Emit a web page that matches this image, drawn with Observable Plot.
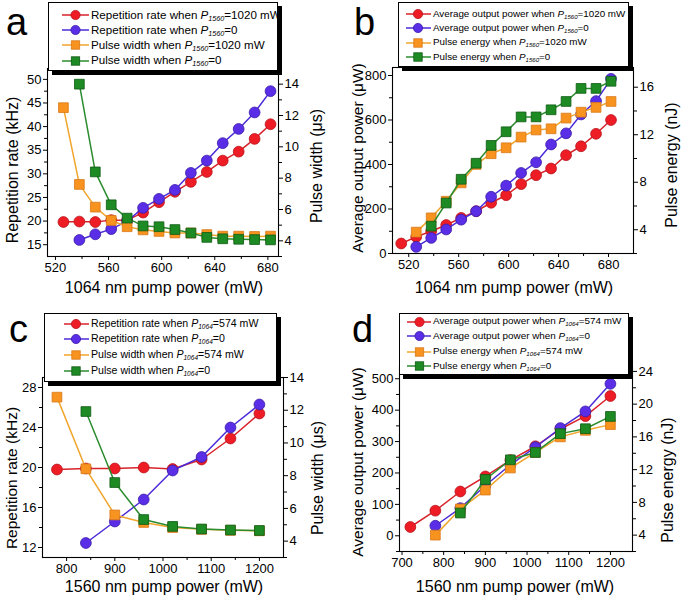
<!DOCTYPE html>
<html><head><meta charset="utf-8">
<script src="https://cdn.jsdelivr.net/npm/d3@7"></script>
<script src="https://cdn.jsdelivr.net/npm/@observablehq/plot@0.6"></script>
<style>
body{margin:0;background:#fff;}
#root{position:relative;width:685px;height:598px;overflow:hidden;font-family:Arial,"Liberation Sans",Helvetica,sans-serif;color:#000;}
.lbl{position:absolute;white-space:nowrap;line-height:1;}
.legend{position:absolute;background:#fff;border:1px solid #000;box-shadow:4px 4px 0 #000;box-sizing:border-box;}
.row{position:absolute;white-space:nowrap;line-height:1;}
.row i{font-style:italic;}
.row sub{font-size:0.62em;font-style:italic;vertical-align:-0.3em;line-height:0;}
</style></head><body><div id="root"></div><script>
// ---------- DATA ----------
// Panel a : 1064 nm pump power (mW)
const aPowerRed = [526,538,550,562,574,586,598,610,622,634,646,658,670,682];
const aRepRate1020 = [19.8,19.9,19.8,20.2,20.2,21.8,24.0,26.2,28.3,30.4,32.8,34.7,37.4,40.5];
const aPowerBlue = [538,550,562,574,586,598,610,622,634,646,658,670,682];
const aRepRate0 = [16.0,17.2,18.3,20.0,22.8,24.7,26.6,30.2,32.8,36.5,39.5,43.0,47.5];
const aPowerOrange = [526,538,550,562,574,586,598,610,622,634,646,658,670,682];
const aPulseWidth1020 = [12.5,7.6,6.15,5.3,4.9,4.7,4.6,4.5,4.5,4.4,4.3,4.3,4.28,4.3];
const aPowerGreen = [538,550,562,574,586,598,610,622,634,646,658,670,682];
const aPulseWidth0 = [14.0,8.4,6.3,5.45,4.95,4.9,4.72,4.5,4.22,4.13,4.1,4.08,4.06];

// Panel b
const bPowerRed = [514,526,538,550,562,574,586,598,610,622,634,646,658,670,682];
const bAvgPower1020 = [45,75,100,128,160,190,228,262,312,352,382,442,482,538,600];
const bPowerBlue = [526,538,550,562,574,586,598,610,622,634,646,658,670,682];
const bAvgPower0 = [30,70,108,152,190,255,305,362,410,490,540,625,685,785];
const bPowerOrange = [526,538,550,562,574,586,598,610,622,634,646,658,670,682];
const bPulseEnergy1020 = [3.8,5.0,6.4,7.95,9.5,10.4,10.9,11.8,12.4,12.5,13.4,13.9,14.3,14.8];
const bPowerGreen = [538,550,562,574,586,598,610,622,634,646,658,670,682];
const bPulseEnergy0 = [4.3,6.25,8.25,9.6,11.1,12.25,13.5,13.5,14.1,14.8,15.9,15.9,16.5];

// Panel c : 1560 nm pump power (mW)
const cPowerRed = [780,840,900,960,1020,1080,1140,1200];
const cRepRate574 = [19.8,19.9,19.9,20.0,19.85,20.8,22.9,25.4];
const cPowerBlue = [840,900,960,1020,1080,1140,1200];
const cRepRate0 = [12.45,14.6,16.8,19.7,21.05,24.0,26.3];
const cPowerOrange = [780,840,900,960,1020,1080,1140,1200];
const cPulseWidth574 = [12.8,8.42,5.6,5.14,4.83,4.72,4.66,4.63];
const cPowerGreen = [840,900,960,1020,1080,1140,1200];
const cPulseWidth0 = [11.92,7.58,5.32,4.9,4.74,4.68,4.65];

// Panel d
const dPowerRed = [720,780,840,900,960,1020,1080,1140,1200];
const dAvgPower574 = [28,80,141,189,241,285,340,381,445];
const dPowerBlue = [780,840,900,960,1020,1080,1140,1200];
const dAvgPower0 = [32,88,160,226,282,343,396,484];
const dPowerOrange = [780,840,900,960,1020,1080,1140,1200];
const dPulseEnergy574 = [4.0,7.2,9.5,12.2,14.1,16.0,16.8,17.5];
const dPowerGreen = [840,900,960,1020,1080,1140,1200];
const dPulseEnergy0 = [6.7,10.8,13.2,14.1,16.4,17.0,18.5];

// Tick values
const aXTicks = [520,560,600,640,680], aXMinor = [540,580,620,660];
const aYLTicks = [15,20,25,30,35,40,45,50], aYLMinor = [17.5,22.5,27.5,32.5,37.5,42.5,47.5];
const aYRTicks = [4,6,8,10,12,14], aYRMinor = [3,5,7,9,11,13];
const bXTicks = [520,560,600,640,680], bXMinor = [540,580,620,660];
const bYLTicks = [0,200,400,600,800], bYLMinor = [100,300,500,700];
const bYRTicks = [4,8,12,16], bYRMinor = [2,6,10,14];
const cXTicks = [800,900,1000,1100,1200], cXMinor = [850,950,1050,1150];
const cYLTicks = [12,16,20,24,28], cYLMinor = [14,18,22,26];
const cYRTicks = [4,6,8,10,12,14], cYRMinor = [3,5,7,9,11,13];
const dXTicks = [700,800,900,1000,1100,1200], dXMinor = [750,850,950,1050,1150];
const dYLTicks = [0,100,200,300,400,500], dYLMinor = [-50,50,150,250,350,450];
const dYRTicks = [4,8,12,16,20,24], dYRMinor = [2,6,10,14,18,22];

// ---------- STYLE ----------
const FONT = 'Arial, "Liberation Sans", Helvetica, sans-serif';
const COL = {
  red:    {fill:"#ee1c24", stroke:"#b8141c", line:"#d8232b", symbol:"circle"},
  blue:   {fill:"#5a2ee6", stroke:"#3b1ca8", line:"#4c2bd8", symbol:"circle"},
  orange: {fill:"#f7931e", stroke:"#d9791a", line:"#f0a52c", symbol:"square"},
  green:  {fill:"#1e8a24", stroke:"#0f5a14", line:"#2b8c2f", symbol:"square"}
};
const root = document.getElementById("root");

function panel(p) {
  const toL = v => p.yL[0] + (v - p.yR[0]) * (p.yL[1] - p.yL[0]) / (p.yR[1] - p.yR[0]);
  const fromL = v => p.yR[0] + (v - p.yL[0]) * (p.yR[1] - p.yR[0]) / (p.yL[1] - p.yL[0]);
  const TS = 4, TP = 2;
  const marks = [
    Plot.frame({stroke: "#000", strokeWidth: 1.1}),
    Plot.axisX(p.xT, {tickSize: TS, tickPadding: TP, label: null, fontSize: 13, tickFormat: d => String(d)}),
    Plot.axisX(p.xM, {tickSize: 3, label: null, tickFormat: () => ""}),
    Plot.axisY(p.yLT, {anchor: "left", tickSize: TS, tickPadding: TP, label: null, fontSize: 13, tickFormat: d => String(d)}),
    Plot.axisY(p.yLM, {anchor: "left", tickSize: 3, label: null, tickFormat: () => ""}),
    Plot.axisY(p.yRT.map(toL), {anchor: "right", tickSize: TS, tickPadding: TP, label: null, fontSize: 13, tickFormat: d => String(Math.round(fromL(d)))}),
    Plot.axisY(p.yRM.map(toL), {anchor: "right", tickSize: 3, label: null, tickFormat: () => ""})
  ];
  for (const s of p.series) {
    const c = COL[s.color];
    const data = s.x.map((x, i) => ({x, y: s.right ? toL(s.y[i]) : s.y[i]}));
    marks.push(Plot.line(data, {x: "x", y: "y", stroke: c.line, strokeWidth: 1.5}));
    marks.push(Plot.dot(data, {x: "x", y: "y", symbol: c.symbol, r: c.symbol === "circle" ? 5.4 : 5.5, fill: c.fill, stroke: c.stroke, strokeWidth: 0.8}));
  }
  const svg = Plot.plot({
    width: p.w, height: p.h,
    marginLeft: p.ml, marginRight: p.mr, marginTop: p.mt, marginBottom: p.mb,
    x: {domain: p.xDomain},
    y: {domain: p.yL},
    style: {fontFamily: FONT, fontSize: "13px", color: "#000", background: "transparent", overflow: "visible"},
    marks
  });
  svg.style.position = "absolute";
  svg.style.left = p.left + "px";
  svg.style.top = p.top + "px";
  svg.style.maxWidth = "none";
  root.appendChild(svg);
}

function text(html, x, y, fs, opts = {}) {
  const d = document.createElement("div");
  d.className = "lbl";
  d.innerHTML = html;
  d.style.fontSize = fs + "px";
  d.style.left = x + "px";
  d.style.top = y + "px";
  d.style.transform = opts.rotate ? "translate(-50%,-50%) rotate(-90deg)" : (opts.center ? "translate(-50%,-50%)" : "none");
  root.appendChild(d);
}

function legend(L) {
  const box = document.createElement("div");
  box.className = "legend";
  box.style.left = L.l + "px"; box.style.top = L.t + "px";
  box.style.width = (L.r - L.l) + "px"; box.style.height = (L.b - L.t) + "px";
  root.appendChild(box);
  L.rows.forEach((r, i) => {
    const c = COL[r.color];
    const y = L.y[i];
    const w = L.x2 - L.x1;
    const ns = "http://www.w3.org/2000/svg";
    const s = document.createElementNS(ns, "svg");
    s.setAttribute("width", w); s.setAttribute("height", 12);
    s.style.position = "absolute"; s.style.left = L.x1 + "px"; s.style.top = (y - 6) + "px";
    const line = document.createElementNS(ns, "line");
    line.setAttribute("x1", 0); line.setAttribute("x2", w); line.setAttribute("y1", 6); line.setAttribute("y2", 6);
    line.setAttribute("stroke", c.line); line.setAttribute("stroke-width", 1.5);
    s.appendChild(line);
    const mx = L.mx - L.x1;
    let m;
    if (c.symbol === "circle") {
      m = document.createElementNS(ns, "circle");
      m.setAttribute("cx", mx); m.setAttribute("cy", 6); m.setAttribute("r", 4.6);
    } else {
      m = document.createElementNS(ns, "rect");
      m.setAttribute("x", mx - 4.2); m.setAttribute("y", 1.8); m.setAttribute("width", 8.4); m.setAttribute("height", 8.4);
    }
    m.setAttribute("fill", c.fill); m.setAttribute("stroke", c.stroke); m.setAttribute("stroke-width", 0.8);
    s.appendChild(m);
    root.appendChild(s);
    const t = document.createElement("div");
    t.className = "row";
    t.style.fontSize = L.fs + "px";
    t.style.left = L.tx + "px";
    t.style.top = (y - L.fs * 0.55) + "px";
    t.innerHTML = r.html;
    root.appendChild(t);
  });
}

const P = s => `<i>P</i><sub>${s}</sub>`;

// ---------- PANELS ----------
panel({left: 0, top: 0, w: 342, h: 299, ml: 47, mr: 64, mt: 68, mb: 43,
  xDomain: [514, 688], yL: [12.5, 52.3], yR: [3, 15],
  xT: aXTicks, xM: aXMinor, yLT: aYLTicks, yLM: aYLMinor, yRT: aYRTicks, yRM: aYRMinor,
  series: [
    {x: aPowerRed, y: aRepRate1020, color: "red"},
    {x: aPowerBlue, y: aRepRate0, color: "blue"},
    {x: aPowerOrange, y: aPulseWidth1020, color: "orange", right: true},
    {x: aPowerGreen, y: aPulseWidth0, color: "green", right: true}
  ]});
panel({left: 342, top: 0, w: 343, h: 299, ml: 50, mr: 52, mt: 67, mb: 46,
  xDomain: [507, 700], yL: [0, 836], yR: [2, 17.66],
  xT: bXTicks, xM: bXMinor, yLT: bYLTicks, yLM: bYLMinor, yRT: bYRTicks, yRM: bYRMinor,
  series: [
    {x: bPowerRed, y: bAvgPower1020, color: "red"},
    {x: bPowerBlue, y: bAvgPower0, color: "blue"},
    {x: bPowerOrange, y: bPulseEnergy1020, color: "orange", right: true},
    {x: bPowerGreen, y: bPulseEnergy0, color: "green", right: true}
  ]});
panel({left: 0, top: 299, w: 342, h: 299, ml: 42, mr: 59, mt: 78, mb: 41,
  xDomain: [750, 1250], yL: [11, 29], yR: [3, 14],
  xT: cXTicks, xM: cXMinor, yLT: cYLTicks, yLM: cYLMinor, yRT: cYRTicks, yRM: cYRMinor,
  series: [
    {x: cPowerRed, y: cRepRate574, color: "red"},
    {x: cPowerBlue, y: cRepRate0, color: "blue"},
    {x: cPowerOrange, y: cPulseWidth574, color: "orange", right: true},
    {x: cPowerGreen, y: cPulseWidth0, color: "green", right: true}
  ]});
panel({left: 342, top: 299, w: 343, h: 299, ml: 57, mr: 53, mt: 67, mb: 47,
  xDomain: [694, 1253], yL: [-50, 539], yR: [2, 24.6],
  xT: dXTicks, xM: dXMinor, yLT: dYLTicks, yLM: dYLMinor, yRT: dYRTicks, yRM: dYRMinor,
  series: [
    {x: dPowerRed, y: dAvgPower574, color: "red"},
    {x: dPowerBlue, y: dAvgPower0, color: "blue"},
    {x: dPowerOrange, y: dPulseEnergy574, color: "orange", right: true},
    {x: dPowerGreen, y: dPulseEnergy0, color: "green", right: true}
  ]});

// ---------- TITLES ----------
text("1064 nm pump power (mW)", 164, 288, 16, {center: true});
text("Repetition rate (kHz)", 13, 170, 16, {rotate: true});
text("Pulse width (μs)", 317, 166, 16, {rotate: true});
text("1064 nm pump power (mW)", 514, 288, 16, {center: true});
text("Average output power (μW)", 358, 158, 15.5, {rotate: true});
text("Pulse energy (nJ)", 672, 165, 16, {rotate: true});
text("1560 nm pump power (mW)", 164, 587, 16, {center: true});
text("Repetition rate (kHz)", 12, 478, 15.5, {rotate: true});
text("Pulse width (μs)", 318, 478, 16, {rotate: true});
text("1560 nm pump power (mW)", 515, 587, 16, {center: true});
text("Average output power (μW)", 358, 462, 15.5, {rotate: true});
text("Pulse energy (nJ)", 668, 480, 16, {rotate: true});

text("a", 6, 3, 38);
text("b", 354, 3, 38);
text("c", 9, 310, 38);
text("d", 352, 310, 38);

// ---------- LEGENDS ----------
legend({l: 48, t: 2, r: 278, b: 71, fs: 11.6, y: [15, 30, 45, 60.5], x1: 62, x2: 89, mx: 75.5, tx: 91,
  rows: [
    {color: "red", html: `Repetition rate when ${P(1560)}=1020 mW`},
    {color: "blue", html: `Repetition rate when ${P(1560)}=0`},
    {color: "orange", html: `Pulse width when ${P(1560)}=1020 mW`},
    {color: "green", html: `Pulse width when ${P(1560)}=0`}
  ]});
legend({l: 398, t: 2, r: 629, b: 67, fs: 9.8, y: [14, 28.3, 42.7, 57.2], x1: 406, x2: 431, mx: 418, tx: 433,
  rows: [
    {color: "red", html: `Average output power when ${P(1560)}=1020 mW`},
    {color: "blue", html: `Average output power when ${P(1560)}=0`},
    {color: "orange", html: `Pulse energy when ${P(1560)}=1020 mW`},
    {color: "green", html: `Pulse energy when ${P(1560)}=0`}
  ]});
legend({l: 44, t: 313, r: 277, b: 382, fs: 10.6, y: [324, 339.3, 354.8, 370.5], x1: 64, x2: 89, mx: 76, tx: 91,
  rows: [
    {color: "red", html: `Repetition rate when ${P(1064)}=574 mW`},
    {color: "blue", html: `Repetition rate when ${P(1064)}=0`},
    {color: "orange", html: `Pulse width when ${P(1064)}=574 mW`},
    {color: "green", html: `Pulse width when ${P(1064)}=0`}
  ]});
legend({l: 399, t: 313, r: 629, b: 375, fs: 9.9, y: [321.7, 336.2, 351.5, 366], x1: 407, x2: 431, mx: 419.5, tx: 433,
  rows: [
    {color: "red", html: `Average output power when ${P(1064)}=574 mW`},
    {color: "blue", html: `Average output power when ${P(1064)}=0`},
    {color: "orange", html: `Pulse energy when ${P(1064)}=574 mW`},
    {color: "green", html: `Pulse energy when ${P(1064)}=0`}
  ]});
</script></body></html>
